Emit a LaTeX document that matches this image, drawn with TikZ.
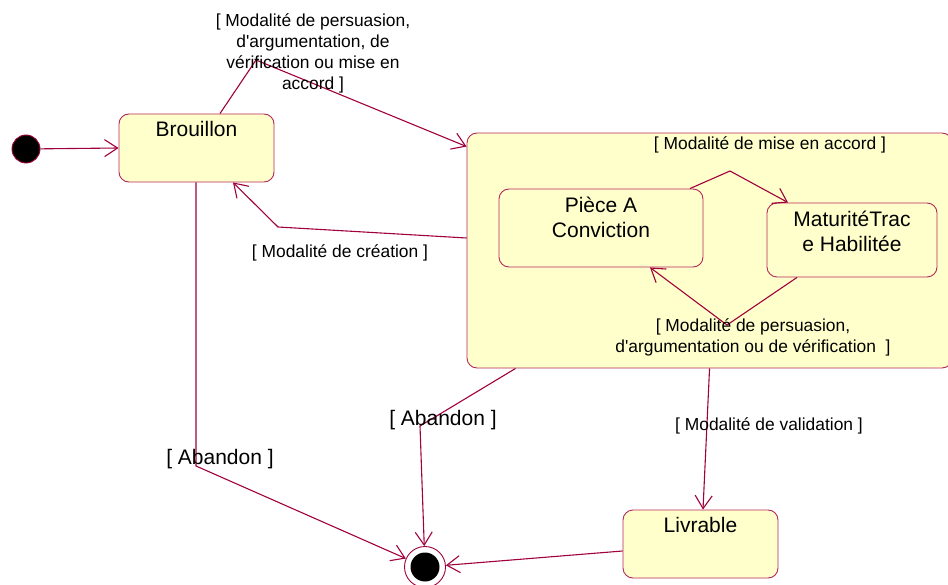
\documentclass[tikz,border=0pt]{standalone}
\usepackage{fontspec}
\setmainfont{Liberation Sans}
\usetikzlibrary{arrows.meta,calc}
\definecolor{umlline}{RGB}{160,0,60}
\definecolor{umlborder}{RGB}{180,40,90}
\definecolor{umlfill}{RGB}{255,255,204}
\begin{document}
\begin{tikzpicture}[x=1pt,y=-1pt,
  conn/.style={draw=umlline, line width=1.1pt},
  arr/.style={conn, -{Straight Barb[length=13pt,width=17pt,line width=1.1pt]}},
  state/.style={draw=umlborder, fill=umlfill, rounded corners=10pt, line width=0.9pt, inner sep=0pt},
  big/.style={font=\fontsize{21}{25}\selectfont},
  small/.style={font=\fontsize{17.4}{21}\selectfont},
  stext/.style={big, anchor=north, align=center, inner sep=5pt, yshift=-3pt}
]
\useasboundingbox (0,0) rectangle (948,585);

% states
\node[state, minimum width=155pt, minimum height=68pt,
      label={[stext]north:Brouillon}] (brouillon) at (196.5,148) {};
\node[state, minimum width=485pt, minimum height=235pt] (comp) at (709.5,250.5) {};
\node[state, minimum width=204pt, minimum height=78pt,
      label={[stext]north:Pièce A\\Conviction}] (piece) at (601,228) {};
\node[state, minimum width=170pt, minimum height=74pt,
      label={[stext]north:MaturitéTrac\\e Habilitée}] (mat) at (852,240) {};
\node[state, minimum width=155pt, minimum height=68pt,
      label={[stext]north:Livrable}] (livrable) at (700.5,544) {};

\node[circle, fill=black, draw=umlline, line width=0.9pt, minimum size=28pt, inner sep=0pt] (init) at (26,149) {};
\node[circle, fill=white, draw=umlline, line width=0.9pt, minimum size=41pt, inner sep=0pt] (final) at (425,567) {};
\node[circle, fill=black, minimum size=29pt, inner sep=0pt] (finalin) at (final.center) {};

% waypoints
\coordinate (w1) at (256,60);
\coordinate (w2) at (278,227);
\coordinate (w3) at (196,466);
\coordinate (w4) at (420,426);
\coordinate (w5) at (730,171);
\coordinate (w6) at (727,325);

% connectors
\draw[arr] (init) -- (brouillon.west);
\draw[arr] ($(brouillon.north)+(23.5,0)$) -- (w1) -- ($(comp.north west)+(0,14)$);
\draw[arr] ($(comp.west)+(0,-12.5)$) -- (w2) -- ($(brouillon.south)+(36.5,0)$);
\draw[arr] ($(brouillon.south)+(-0.5,0)$) -- (w3) -- (final);
\draw[arr] ($(comp.south west)+(49,0)$) -- (w4) -- (final);
\draw[arr] ($(comp.south west)+(243,0)$) -- ($(livrable.north)+(2.5,0)$);
\draw[arr] ($(livrable.west)+(0,7)$) -- (final);
\draw[arr] ($(piece.north)+(89,0)$) -- (w5) -- ($(mat.north)+(-64,0)$);
\draw[arr] ($(mat.south)+(-55,0)$) -- (w6) -- ($(piece.south)+(49,0)$);

% guard labels
\node[small, align=center] (g1) at (313,53) {[ Modalité de persuasion,\\d\textquotesingle argumentation, de\\vérification ou mise en\\accord ]};
\node[small] (g2) at (770,145) {[ Modalité de mise en accord ]};
\node[small, align=center] (g3) at (753,337.5) {[ Modalité de persuasion,\\d\textquotesingle argumentation ou de vérification \ ]};
\node[small] (g4) at (340,253) {[ Modalité de création ]};
\node[big] (g5) at (220,459) {[ Abandon ]};
\node[big] (g6) at (443,420) {[ Abandon ]};
\node[small] (g7) at (769,426) {[ Modalité de validation ]};
\end{tikzpicture}
\end{document}
